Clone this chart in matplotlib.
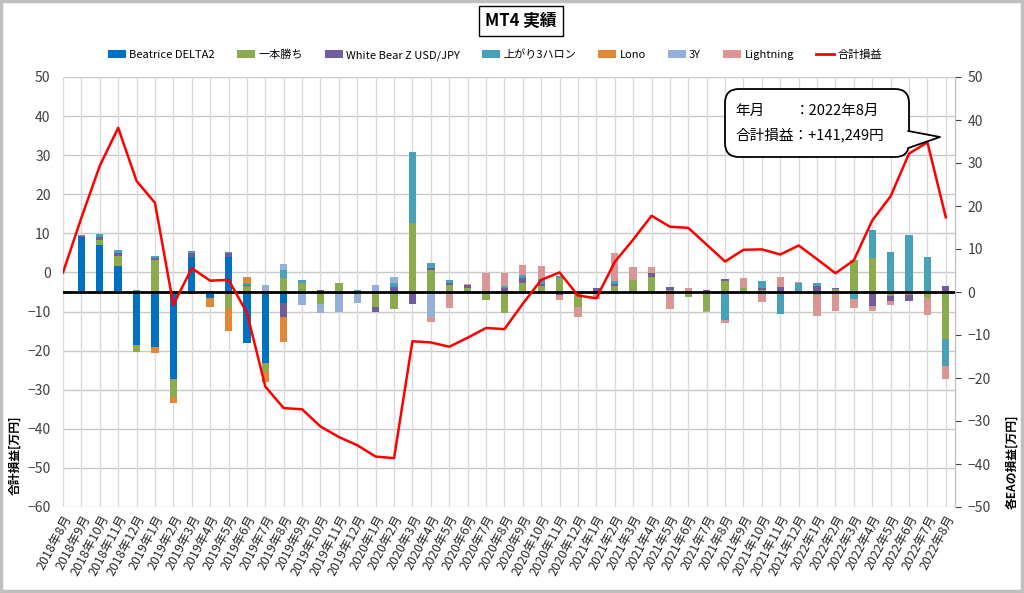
import matplotlib
matplotlib.use("Agg")
import matplotlib.pyplot as plt
import matplotlib.transforms as mtransforms
from matplotlib.patches import Rectangle, FancyBboxPatch, Polygon, Patch
from matplotlib.lines import Line2D
import numpy as np

plt.rcParams['font.family'] = ['Noto Sans CJK JP', 'DejaVu Sans']

#Define datasets (monthly P/L per EA [万円], right axis)
months = [f"{y}年{m}月" for y in range(2018, 2023) for m in range(1, 13)]
months = months[months.index("2018年8月"):months.index("2022年8月") + 1]

beatrice = [0, 12.9, 10.9, 6.0, -12.3, -12.8, -20.2, 8.2, -1.4, 8.2, -11.8, -16.5, -2.6,
            0, 0, 0, 0, 0, 0, 0, 0, 0, 0, 0, 0, 0, 0, 0, 0, 0, 0, 0, 0, 0, 0, 0, 0,
            0, 0, 0, 0, 0, 0, 0, 0, 0, 0, 0, 0]
ippon = [0, 0, 1.2, 2.3, -1.7, 7.5, -4.3, 0, 0, -3.8, 1.5, -2.0, 3.3,
         2.2, -2.9, 2.0, 0, -3.5, -4.0, 16.1, 5.1, 1.7, 1.0, -1.9, -4.8, 2.2, 1.4, 3.3, -3.4,
         0, 1.5, 2.7, 3.5, 0.4, -1.2, -4.4, 2.6, 1.0, 0.5, -0.5, 0, -0.8, 0.8, 7.5, 7.8,
         -1.0, -0.8, -1.5, -10.9]
whitebear = [0, 0.1, 0.8, 0.85, 0, 0.3, 0, 0.8, 0.2, 0.8, 0.2, 0.3, -3.1,
             0, 0.5, -0.5, 0, -1.1, 1.1, -2.7, 0.4, 0.3, 0.6, 0.3, 0.85, 1.0, 0.4, -0.8, 0,
             1.0, 0.3, 0, 1.0, 0.8, 0, 0.4, 0.5, 0, 0.4, 1.1, 0, 1.3, 0.2, 0, -3.3,
             -1.2, -1.4, 0, 1.4]
agari3f = [0, 0.2, 0.7, 0.6, 0.4, 0.5, 0, 0.5, 0, 0.3, 0.5, 0, 1.8,
           0.5, 0, 0, 0.5, 0, 0.9, 16.5, 1.2, 0.7, 0, 0, 0.6, 0.8, 1.2, 0.5, 0,
           0, 0.8, 0, 0, 0, 0, 0, -6.4, 0, 1.6, -4.5, 2.2, 0.85, 0, -1.55, 6.7,
           9.2, 13.2, 8.1, -6.2]
lono = [0, 0, 0, 0, 0, -1.3, -1.2, -0.4, -2.1, -5.3, 1.2, -2.5, -5.9,
        0, 0, 0, 0, 0, 0, 0, 0, 0, 0, 0, 0, 0, 0, 0, 0, 0, 0, 0, 0, 0, 0, 0, 0,
        0, 0, 0, 0, 0, 0, 0, 0, 0, 0, 0, 0]
three_y = [0, 0, 0, 0, 0, 0, 0, 0, 0, 0, 0, 1.4, 1.3,
           -3.0, -2.0, -4.1, -2.5, 1.7, 1.55, 0, -5.8, 0, 0, 0, 0, 0, 0, 0, 0,
           0, 0, 0, 0, 0, 0, 0, 0, 0, 0, 0, 0, 0, 0, 0, 0, 0, 0, 0, 0]
lightning = [0, 0, 0, 0, 0, 0, 0, 0, 0, 0, 0, 0, 0,
             0, 0, 0, 0, 0, 0, 0, -1.2, -3.8, 0.3, 4.2, 3.0, 2.2, 3.1, -1.1, -2.3,
             -1.7, 6.4, 3.2, 1.4, -4.0, 0.9, -0.2, -0.85, 2.2, -2.3, 2.3, 0.2, -4.7, -4.5, -2.25, -1.2,
             -0.8, 0, -3.8, -3.1]

#Cumulative total [万円], left axis
total = [0, 14.0, 27.3, 37.0, 23.4, 17.8, -8.3, 1.1, -2.1, -1.9, -10.3, -29.2, -34.7,
         -35.0, -39.4, -42.1, -44.2, -47.1, -47.5, -17.6, -17.9, -19.0, -16.7, -14.2, -14.5,
         -8.0, -1.9, 0.0, -5.9, -6.6, 2.7, 8.4, 14.5, 11.7, 11.4, 7.1, 2.8, 5.8, 5.9, 4.6,
         6.9, 3.4, -0.2, 3.1, 13.3, 19.5, 30.4, 33.3, 14.1]

series = [("Beatrice DELTA2", beatrice, "#0070c0"),
          ("一本勝ち", ippon, "#8caa4e"),
          ("White Bear Z USD/JPY", whitebear, "#725c9b"),
          ("上がり3ハロン", agari3f, "#47a1b8"),
          ("Lono", lono, "#e0883a"),
          ("3Y", three_y, "#95b0d8"),
          ("Lightning", lightning, "#d99694")]

x = np.arange(len(months))
W, H = 1024, 593
fig = plt.figure(figsize=(W / 100, H / 100), dpi=100)

#Bar axes (right scale)
axb = fig.add_axes([63 / W, 1 - 507 / H, (955 - 63) / W, (507 - 77) / H])
axl = axb.twinx()
axl.set_ylim(-60, 50)
axb.set_ylim(-50, 50)
axb.set_xlim(0, 48.5)

pos = np.zeros(len(x))
neg = np.zeros(len(x))
for name, vals, col in series:
    v = np.array(vals, dtype=float)
    bottom = np.where(v >= 0, pos, neg)
    axb.bar(x, v, bottom=bottom, width=0.4, color=col, zorder=3)
    pos += np.clip(v, 0, None)
    neg += np.clip(v, None, 0)

#Grid
blend = mtransforms.blended_transform_factory(axb.transAxes, axl.transData)
for v in range(-60, 51, 10):
    axb.plot([0, 1], [v, v], transform=blend, color="#c8c8c8", lw=1, zorder=1)
for xi in x:
    axb.axvline(xi, color="#d9d9d9", lw=1, zorder=1)
axb.axhline(0, color="black", lw=2, zorder=4)

#Line
axl.plot(x, total, color="#ff0000", lw=1.8, zorder=5)

#Ticks
axb.set_xticks(x)
axb.set_xticklabels(months, rotation=62, ha="right", rotation_mode="anchor", fontsize=9, color="#262626")
axb.tick_params(axis="x", length=0, pad=4)
axb.yaxis.tick_right()
axb.set_yticks(range(-50, 51, 10))
axb.tick_params(axis="y", labelsize=10, colors="#404040", length=4, pad=5)
axl.yaxis.tick_left()
axl.set_yticks(range(-60, 51, 10))
axl.tick_params(axis="y", labelsize=10, colors="#404040", length=0, pad=9)
for a in (axb, axl):
    for s in ("top", "bottom", "left"):
        a.spines[s].set_visible(False)
    a.spines["right"].set_color("#bfbfbf")

#Axis titles
fig.text(15 / W, 1 - 455 / H, "合計損益[万円]", rotation=90, ha="center", va="center",
         fontsize=8.5, fontweight="bold")
fig.text(1012 / W, 1 - 462 / H, "各EAの損益[万円]", rotation=90, ha="center", va="center",
         fontsize=8.5, fontweight="bold")

#Legend
handles = [Patch(facecolor=c, label=n) for n, _, c in series]
handles.append(Line2D([], [], color="#ff0000", lw=2, label="合計損益"))
fig.legend(handles=handles, loc="center", bbox_to_anchor=(495 / W, 1 - 55 / H), ncol=8,
           frameon=False, fontsize=8, handlelength=1.6, handleheight=0.8,
           columnspacing=2.0, handletextpad=0.3)

#Decorations in pixel coordinates
ov = fig.add_axes([0, 0, 1, 1], zorder=10)
ov.set_xlim(0, W)
ov.set_ylim(H, 0)
ov.axis("off")
ov.add_patch(Rectangle((1, 1), W - 3, H - 3, fill=False, ec="#bfbfbf", lw=2.5))
ov.text(521, 21, "MT4 実績", ha="center", va="center", fontsize=12, fontweight="bold",
        bbox=dict(boxstyle="square,pad=0.35", fc="white", ec="black", lw=1))
ov.add_patch(FancyBboxPatch((725, 89), 184, 68, boxstyle="round,pad=0,rounding_size=14",
                            fc="white", ec="black", lw=1.3))
ov.add_patch(Polygon([(907, 131), (940, 137), (907, 148)], closed=True, fc="white", ec="none"))
ov.plot([908.3, 940, 908.3], [131, 137, 148], color="black", lw=1.3)
ov.text(735, 111, "年月", ha="left", va="center", fontsize=10.5)
ov.text(795, 111, "：2022年8月", ha="left", va="center", fontsize=10.5)
ov.text(735, 135, "合計損益：+141,249円", ha="left", va="center", fontsize=10.5)

fig.savefig("out.png", dpi=100)
